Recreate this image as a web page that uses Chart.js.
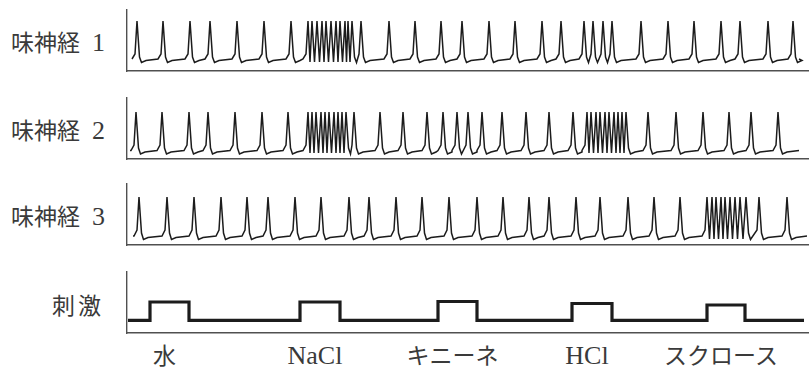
<!DOCTYPE html>
<html lang="ja">
<head>
<meta charset="utf-8">
<script src="https://cdn.jsdelivr.net/npm/chart.js@4.4.0/dist/chart.umd.min.js"></script>
<style>
  html, body { margin: 0; padding: 0; background: #fff; }
  #wrap { position: relative; width: 809px; height: 372px; overflow: hidden; }
  canvas { position: absolute; left: 120px; }
  .lbl {
    position: absolute;
    font-family: "Liberation Serif", "Noto Sans CJK JP", serif;
    font-size: 23px;
    line-height: 1;
    color: #3a3a3a;
    white-space: nowrap;
    transform: translateY(-50%);
  }
  .bottom { transform: translate(-50%, -50%); }
  .latin { font-size: 26px; }
</style>
</head>
<body>
<div id="wrap">
  <canvas id="c1" width="689" height="69" style="top:6px"></canvas>
  <canvas id="c2" width="689" height="69" style="top:94px"></canvas>
  <canvas id="c3" width="689" height="69" style="top:180px"></canvas>
  <canvas id="c4" width="689" height="69" style="top:268px"></canvas>
</div>
<script>
// ラベル
const nerveNames = ['味神経', '味神経', '味神経'];
const nerveNums = ['1', '2', '3'];
const stimTitle = '刺激';
const stimNames = ['水', 'NaCl', 'キニーネ', 'HCl', 'スクロース'];

// スパイク時刻 (横軸 0-682)
const nerve1Spikes = [10, 36, 63, 83, 110, 137, 164, 181, 185, 190, 195, 199, 204, 209, 213, 218, 221, 225,
  234, 262, 288, 314, 335, 362, 388, 415, 434, 457, 466, 476, 485, 514, 541, 567, 594, 613, 641, 666];
const nerve2Spikes = [9, 35, 62, 81, 108, 135, 161, 181, 185, 189, 194, 198, 202, 207, 211, 215, 219,
  227, 253, 276, 300, 316, 330, 341, 355, 375, 399, 422, 446, 460, 464, 469, 473, 478, 482, 487, 491, 495, 499,
  521, 549, 576, 602, 624, 651];
const nerve3Spikes = [12, 40, 67, 94, 120, 141, 168, 194, 222, 242, 269, 295, 322, 350, 376, 402, 422, 449,
  473, 501, 527, 553, 580, 585, 589, 594, 598, 603, 608, 613, 619, 632, 660];

// 記録の始まりと終わり
const nerve1Span = [5, 672];
const nerve2Span = [3, 672];
const nerve3Span = [6, 680];

// 膜電位の高さ: [ピーク, 立ち上がり, 谷, 回復, 基線, バースト谷]
const nerve1Levels = [50, 17, 8.5, 10.5, 12, 9];
const nerve2Levels = [47, 14, 5, 7, 8.5, 6];
const nerve3Levels = [48, 15, 5.5, 7.5, 9, 6];

// 刺激
const stimOn = [23, 173, 311, 445, 580];
const stimOff = [62, 213, 350, 485, 618];
const stimHigh = [31, 31, 31.5, 29.5, 28];
const stimLow = 12.7;
const stimSpan = [1, 677];

const X_MAX = 682;
const Y_MAX = 61;

// スパイク列から折れ線の点を作る
function buildTrace(spikes, span, lv) {
  const [peak, pre, trough, rec, base, burstLow] = lv;
  const pts = [{ x: span[0], y: base }];
  spikes.forEach((t, i) => {
    const prev = i > 0 ? spikes[i - 1] : null;
    const next = i < spikes.length - 1 ? spikes[i + 1] : null;
    const gapPrev = prev === null ? 99 : t - prev;
    const gapNext = next === null ? 99 : next - t;
    if (gapPrev >= 8) {
      if (gapPrev >= 14) pts.push({ x: t - 5, y: base });
      pts.push({ x: t - 2, y: pre });
    }
    pts.push({ x: t, y: peak });
    if (gapNext < 8) {
      pts.push({ x: (t + next) / 2, y: burstLow });
    } else {
      pts.push({ x: t + 2.5, y: pre - 3 });
      pts.push({ x: t + 4.5, y: trough });
      if (gapNext >= 14) pts.push({ x: t + 9, y: rec });
    }
  });
  pts.push({ x: span[1], y: base });
  return pts;
}

function buildStim() {
  const pts = [{ x: stimSpan[0], y: stimLow }];
  stimOn.forEach((on, i) => {
    pts.push({ x: on, y: stimLow });
    pts.push({ x: on, y: stimHigh[i] });
    pts.push({ x: stimOff[i], y: stimHigh[i] });
    pts.push({ x: stimOff[i], y: stimLow });
  });
  pts.push({ x: stimSpan[1], y: stimLow });
  return pts;
}

function makeChart(id, pts, lineWidth) {
  const axis = (extra) => Object.assign({
    ticks: { display: false },
    grid: { display: false, drawTicks: false },
    border: { display: true, color: '#505050', width: 1.4 }
  }, extra);
  return new Chart(document.getElementById(id), {
    type: 'line',
    data: {
      datasets: [{
        data: pts,
        borderColor: '#1c1c1c',
        borderWidth: lineWidth,
        borderJoinStyle: 'miter',
        pointRadius: 0,
        tension: 0,
        fill: false
      }]
    },
    options: {
      responsive: false,
      animation: false,
      events: [],
      layout: { padding: { left: 7, right: 0, top: 4, bottom: 4 } },
      plugins: { legend: { display: false }, tooltip: { enabled: false } },
      scales: {
        x: axis({ type: 'linear', min: 0, max: X_MAX }),
        y: axis({ min: 0, max: Y_MAX })
      }
    }
  });
}

makeChart('c1', buildTrace(nerve1Spikes, nerve1Span, nerve1Levels), 1.5);
makeChart('c2', buildTrace(nerve2Spikes, nerve2Span, nerve2Levels), 1.5);
makeChart('c3', buildTrace(nerve3Spikes, nerve3Span, nerve3Levels), 1.5);
const stimChart = makeChart('c4', buildStim(), 3.2);

// 左側のラベル
const wrap = document.getElementById('wrap');
const sideY = [43, 131, 217];
nerveNames.forEach((name, i) => {
  const d = document.createElement('div');
  d.className = 'lbl';
  d.style.left = '11px';
  d.style.top = sideY[i] + 'px';
  d.innerHTML = name + '<span class="latin" style="margin-left:12px">' + nerveNums[i] + '</span>';
  wrap.appendChild(d);
});
const st = document.createElement('div');
st.className = 'lbl';
st.style.left = '52px';
st.style.top = '306px';
st.style.letterSpacing = '3px';
st.textContent = stimTitle;
wrap.appendChild(st);

// 刺激名 (刺激区間の中央付近)
const xs = stimChart.scales.x;
stimNames.forEach((name, i) => {
  const d = document.createElement('div');
  d.className = /^[A-Za-z]+$/.test(name) ? 'lbl bottom latin' : 'lbl bottom';
  d.style.left = (120 + xs.getPixelForValue((stimOn[i] + stimOff[i]) / 2) - 5) + 'px';
  d.style.top = '356px';
  d.textContent = name;
  wrap.appendChild(d);
});
</script>
</body>
</html>
